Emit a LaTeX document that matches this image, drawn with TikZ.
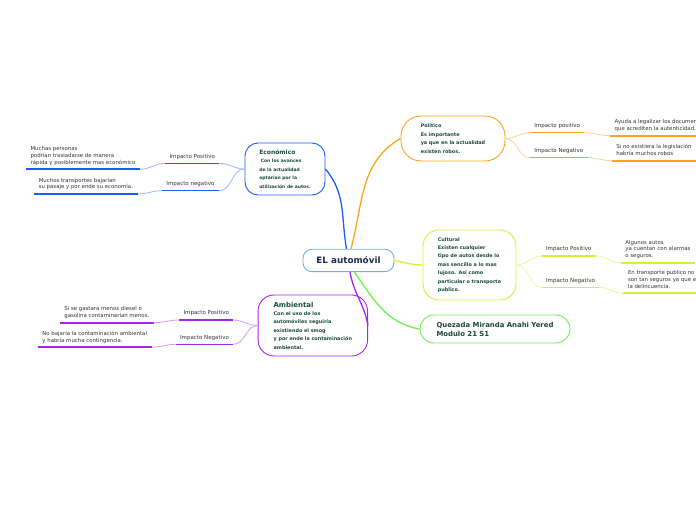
\documentclass[tikz,border=0pt]{standalone}
\usepackage{fontspec}
\setmainfont{DejaVu Sans}
\usepackage{tikz}

\definecolor{ecoblue}{HTML}{1D5CF5}
\definecolor{ecolight}{HTML}{9DB8F8}
\definecolor{polorange}{HTML}{F8A51D}
\definecolor{pollight}{HTML}{FBD39A}
\definecolor{culgreen}{HTML}{D4F03A}
\definecolor{cullight}{HTML}{E9F89C}
\definecolor{qgreen}{HTML}{6CF04A}
\definecolor{ambpurple}{HTML}{A626E8}
\definecolor{amblight}{HTML}{D59BF2}
\definecolor{cenblue}{HTML}{74B1E0}
\definecolor{nodetext}{HTML}{1B4A3A}
\definecolor{leaftext}{HTML}{333333}
\definecolor{centext}{HTML}{1B2A4E}

\begin{document}
\begin{tikzpicture}[x=1pt, y=1pt,
    topic/.style={draw, line width=0.9pt, fill=white, inner sep=0pt, align=left, text=nodetext, font=\fontsize{4.9}{8.4}\selectfont\bfseries},
    impact/.style={inner xsep=4.2pt, inner ysep=3.4pt, text depth=1.4pt, text=leaftext, font=\fontsize{5.5}{6.7}\selectfont},
    leaf/.style={align=left, inner xsep=4.5pt, inner ysep=3.4pt, text depth=1.4pt, text=leaftext, font=\fontsize{5.4}{6.7}\selectfont},
    branch/.style={line width=1.3pt},
    twig/.style={line width=0.8pt},
    uline/.style={line width=1.4pt},
    leafline/.style={line width=1.8pt}]
  \useasboundingbox (0,0) rectangle (696,520);
  \clip (0,0) rectangle (696,520);

  % centro y temas
  \node[topic, draw=cenblue, text=centext, align=center, minimum width=91, minimum height=22.4, rounded corners=9, font=\fontsize{8.8}{10}\selectfont\bfseries] (cen) at (348.5,259.5) {EL automóvil};
  \node[topic, draw=ecoblue, minimum width=80, minimum height=52, rounded corners=13, font=\fontsize{4.5}{8.5}\selectfont\bfseries] (eco) at (285,351)
    {{\fontsize{6}{8.5}\selectfont Económico}\\ \hspace*{1.5pt}Con los avances\\ de la actualidad\\ optarian por la\\ utilización de autos.};
  \node[topic, draw=polorange, minimum width=104, minimum height=45, rounded corners=20, font=\fontsize{4.9}{8.8}\selectfont\bfseries] (pol) at (453,381.5)
    {Político\\ Es importante\\ ya que en la actualidad\\ existen robos.};
  \node[topic, draw=culgreen, minimum width=93, minimum height=70, rounded corners=16] (cul) at (469.5,255)
    {Cultural\\ Existen cualquier\\ tipo de autos desde lo\\ mas sencillo a lo mas\\ lujoso. Así como\\ particular o transporte\\ publico.};
  \node[topic, draw=qgreen, minimum width=150, minimum height=28, rounded corners=14, font=\fontsize{6.9}{9}\selectfont\bfseries] (qz) at (495,191)
    {Quezada Miranda Anahi Yered\\ Modulo 21 S1};
  \node[topic, draw=ambpurple, minimum width=109.5, minimum height=61, rounded corners=16] (amb) at (312.8,194.5)
    {{\fontsize{6.9}{9}\selectfont Ambiental}\\ Con el uso de los\\ automóviles seguiría\\ existiendo el smog\\ y por ende la contaminación\\ ambiental.};

  % Económico
  \node[impact, anchor=south east] (pe1) at (219.3,356.7) {Impacto Positivo};
  \node[impact, anchor=south east] (pe2) at (219,329.3) {Impacto negativo};
  \node[leaf, anchor=south east] (le1) at (140,350.7) {Muchas personas\\ podrían trasladarse de manera\\ rápida y posiblemente mas económico};
  \node[leaf, anchor=south east] (le2) at (137.7,326) {Muchos transportes bajarían\\ su pasaje y por ende su economía.};
  \draw[twig, ecolight] (eco.west) to[out=180,in=0] (pe1.south east);
  \draw[twig, ecolight] (eco.west) to[out=180,in=0] (pe2.south east);
  \draw[twig, ecolight] (pe1.south west) to[out=180,in=0] (le1.south east);
  \draw[twig, ecolight] (pe2.south west) to[out=180,in=0] (le2.south east);
  \draw[uline, ecoblue] (pe1.south west) -- (pe1.south east);
  \draw[uline, ecoblue] (pe2.south west) -- (pe2.south east);
  \draw[leafline, ecoblue] (le1.south west) -- (le1.south east);
  \draw[leafline, ecoblue] (le2.south west) -- (le2.south east);

  % Político
  \node[impact, anchor=south west] (pp1) at (530,387.3) {Impacto positivo};
  \node[impact, anchor=south west] (pp2) at (530,362.3) {Impacto Negativo};
  \node[leaf, anchor=south west] (lp1) at (610,384.3) {Ayuda a legalizar los documentos\\ que acrediten la autenticidad.};
  \node[leaf, anchor=south west] (lp2) at (611.7,359.3) {Si no existiera la legislación\\ habría muchos robos};
  \draw[twig, pollight] (pol.east) to[out=0,in=180] (pp1.south west);
  \draw[twig, pollight] (pol.east) to[out=0,in=180] (pp2.south west);
  \draw[twig, pollight] (pp1.south east) to[out=0,in=180] (lp1.south west);
  \draw[twig, pollight] (pp2.south east) to[out=0,in=180] (lp2.south west);
  \draw[uline, polorange] (pp1.south west) -- (pp1.south east);
  \draw[uline, polorange] (pp2.south west) -- (pp2.south east);
  \draw[leafline, polorange] (lp1.south west) -- (lp1.south east);
  \draw[leafline, polorange] (lp2.south west) -- (lp2.south east);

  % Cultural
  \node[impact, anchor=south west] (pc1) at (541.7,264) {Impacto Positivo};
  \node[impact, anchor=south west] (pc2) at (541.7,232.7) {Impacto Negativo};
  \node[leaf, anchor=south west] (lc1) at (620.7,257.3) {Algunos autos\\ ya cuentan con alarmas\\ o seguros.};
  \node[leaf, anchor=south west] (lc2) at (623.3,226.7) {En transporte publico no\\ son tan seguros ya que existe\\ la delincuencia.};
  \draw[twig, cullight] (cul.east) to[out=0,in=180] (pc1.south west);
  \draw[twig, cullight] (cul.east) to[out=0,in=180] (pc2.south west);
  \draw[twig, cullight] (pc1.south east) to[out=0,in=180] (lc1.south west);
  \draw[twig, cullight] (pc2.south east) to[out=0,in=180] (lc2.south west);
  \draw[uline, culgreen] (pc1.south west) -- (pc1.south east);
  \draw[uline, culgreen] (pc2.south west) -- (pc2.south east);
  \draw[leafline, culgreen] (lc1.south west) -- (lc1.south east);
  \draw[leafline, culgreen] (lc2.south west) -- (lc2.south east);

  % Ambiental
  \node[impact, anchor=south east] (pa1) at (233.3,200) {Impacto Positivo};
  \node[impact, anchor=south east] (pa2) at (233.3,175.7) {Impacto Negativo};
  \node[leaf, anchor=south east] (la1) at (154,197.3) {Si se gastara menos diesel o\\ gasolina contaminarían menos.};
  \node[leaf, anchor=south east] (la2) at (151.7,172.7) {No bajaría la contaminación ambiental\\ y habría mucha contingencia.};
  \draw[twig, amblight] (amb.west) to[out=180,in=0] (pa1.south east);
  \draw[twig, amblight] (amb.west) to[out=180,in=0] (pa2.south east);
  \draw[twig, amblight] (pa1.south west) to[out=180,in=0] (la1.south east);
  \draw[twig, amblight] (pa2.south west) to[out=180,in=0] (la2.south east);
  \draw[uline, ambpurple] (pa1.south west) -- (pa1.south east);
  \draw[uline, ambpurple] (pa2.south west) -- (pa2.south east);
  \draw[leafline, ambpurple] (la1.south west) -- (la1.south east);
  \draw[leafline, ambpurple] (la2.south west) -- (la2.south east);

  % ramas del centro
  \draw[branch, ecoblue] ([xshift=-2pt]cen.north) to[out=100,in=-50] (eco.east);
  \draw[branch, polorange] ([xshift=2.5pt]cen.north) to[out=75,in=210] (pol.west);
  \draw[branch, culgreen] (cen.east) to[out=-10,in=180] (cul.west);
  \draw[branch, qgreen] ([xshift=6pt]cen.south) to[out=-55,in=170] (qz.west);
  \draw[branch, ambpurple] ([xshift=1.5pt]cen.south) to[out=-80,in=100] (amb.east);
\end{tikzpicture}
\end{document}
